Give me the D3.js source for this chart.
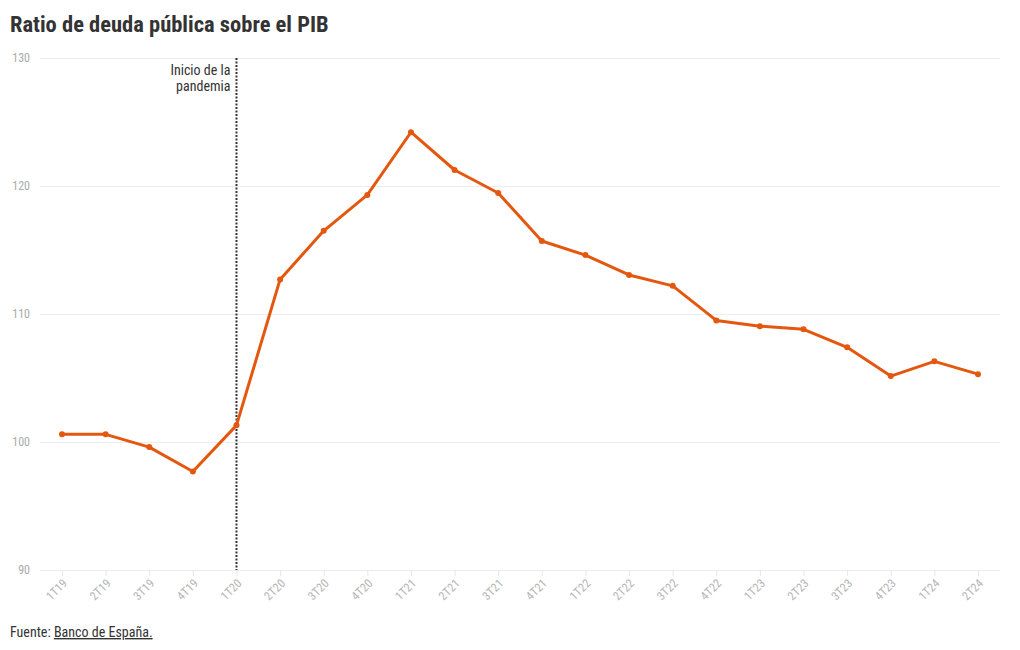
<!DOCTYPE html>
<html><head><meta charset="utf-8">
<script src="https://cdn.jsdelivr.net/npm/d3@7"></script>
<style>
body{margin:0;background:#fff;font-family:"Roboto Condensed","Liberation Sans Narrow","Roboto",sans-serif;}
svg text{font-family:"Roboto Condensed","Liberation Sans Narrow","Roboto",sans-serif;}
</style></head><body>
<svg id="c" width="1020" height="650"></svg>
<script>
const categories = ["1T19","2T19","3T19","4T19","1T20","2T20","3T20","4T20","1T21","2T21","3T21","4T21","1T22","2T22","3T22","4T22","1T23","2T23","3T23","4T23","1T24","2T24"];
const debtRatio = [100.6,100.6,99.6,97.7,101.3,112.7,116.5,119.3,124.2,121.25,119.45,115.7,114.6,113.05,112.2,109.5,109.05,108.8,107.4,105.15,106.3,105.3];
const yTicks = [90,100,110,120,130];
const pandemicStart = "1T20";

const svg = d3.select("#c");
const x = d3.scalePoint().domain(categories).range([62,978]);
const y = d3.scaleLinear().domain([90,130]).range([570,58]);

svg.append("text").attr("x",10).attr("y",32).text("Ratio de deuda pública sobre el PIB")
  .attr("font-size",22.5).attr("font-weight",700).attr("fill","#333");

// grid
const yAxis = svg.append("g").attr("transform","translate(40,0)")
  .call(d3.axisRight(y).tickValues(yTicks).tickSize(960).tickFormat(d3.format("d")));
yAxis.select(".domain").remove();
yAxis.selectAll("line").attr("stroke","#ececec");
yAxis.selectAll("text").attr("x",-10).attr("dy",0).attr("text-anchor","end").attr("fill","#aaa").attr("font-size",12)
  .attr("dominant-baseline","middle");

// x axis ticks
const xAxis = svg.append("g").attr("transform","translate(0,570)")
  .call(d3.axisBottom(x).tickSize(6).tickFormat(""));
xAxis.select(".domain").remove();
xAxis.selectAll("line").attr("stroke","#e6e6e6");
// rotated labels
svg.append("g").selectAll("text.xl").data(categories).enter().append("text").attr("class","xl")
  .attr("transform",d=>`translate(${x(d)+6},${584}) rotate(-45)`)
  .attr("text-anchor","end").attr("fill","#b5b5b5").attr("font-size",12).text(d=>d);

// pandemic line
const px = x(pandemicStart);
svg.append("line").attr("x1",px).attr("x2",px).attr("y1",y(130)).attr("y2",y(90))
  .attr("stroke","#333").attr("stroke-width",2).attr("stroke-dasharray","2,1.5");
const ann = svg.append("text").attr("text-anchor","end").attr("font-size",14).attr("fill","#333");
ann.append("tspan").attr("x",px-6).attr("y",75).text("Inicio de la");
ann.append("tspan").attr("x",px-6).attr("y",91).text("pandemia");

// line
const data = categories.map((c,i)=>({c,v:debtRatio[i]}));
svg.append("path").datum(data).attr("fill","none").attr("stroke","#e4570f").attr("stroke-width",3)
  .attr("stroke-linejoin","round")
  .attr("d",d3.line().x(d=>x(d.c)).y(d=>y(d.v)));
svg.selectAll("circle.pt").data(data).enter().append("circle").attr("class","pt")
  .attr("cx",d=>x(d.c)).attr("cy",d=>y(d.v)).attr("r",3).attr("fill","#e4570f");

// footer
const f = svg.append("text").attr("x",10).attr("y",637).attr("font-size",14).attr("fill","#333");
f.append("tspan").text("Fuente: ");
f.append("tspan").attr("text-decoration","underline").text("Banco de España.");
</script></body></html>
